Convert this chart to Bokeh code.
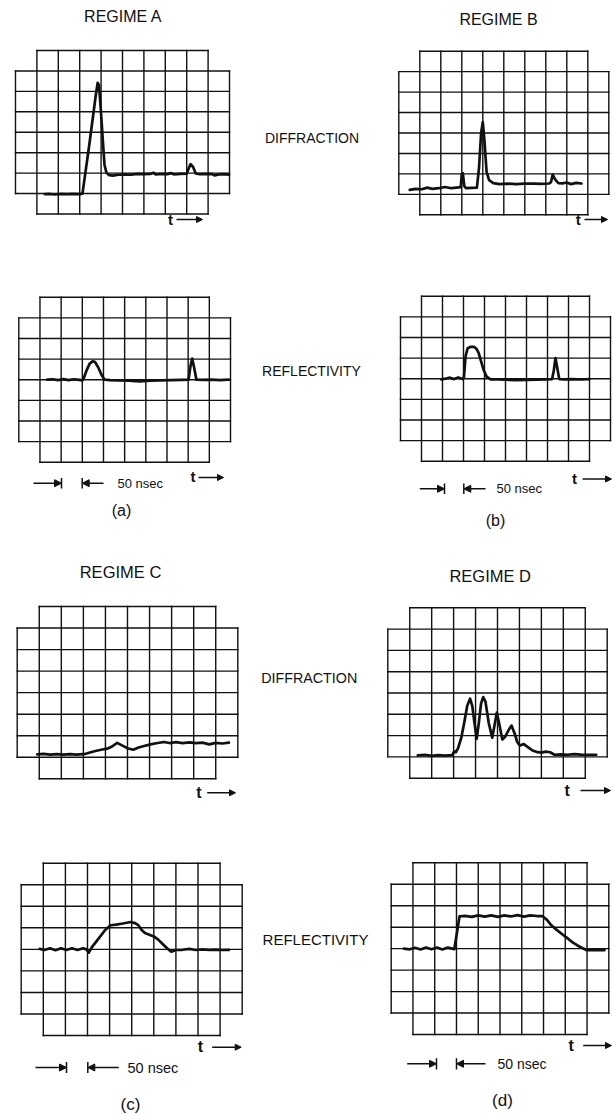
from bokeh.plotting import figure
from bokeh.layouts import column, row
from bokeh.models import Range1d, Arrow, NormalHead
from bokeh.core.properties import value
from bokeh.embed import file_html
from bokeh.resources import INLINE

# ---------------- data (oscilloscope divisions: x 0..10, y 0..8) ----------------
N_COLS = 10
N_ROWS = 8

REGIME_TITLES = ["REGIME A", "REGIME B", "REGIME C", "REGIME D"]
SIGNAL_NAMES = ["DIFFRACTION", "REFLECTIVITY"]
PANEL_TAGS = ["(a)", "(b)", "(c)", "(d)"]
TIME_LABEL = "t"
SCALE_LABEL = "50 nsec"

A_DIFF_X = [1.37, 1.6, 1.85, 2.1, 2.4, 2.7, 3.0, 3.13, 3.45, 3.75, 3.84, 3.9, 3.98, 4.08, 4.16, 4.25,
            4.38, 4.55, 4.8, 5.1, 5.4, 5.7, 6.0, 6.3, 6.45, 6.55, 6.8, 7.1, 7.25, 7.4, 7.7, 8.0, 8.08,
            8.18, 8.3, 8.42, 8.6, 8.9, 9.2, 9.3, 9.5, 9.75, 9.98]
A_DIFF_Y = [0.97, 0.98, 0.96, 0.98, 0.97, 0.98, 0.97, 1.0, 3.4, 5.8, 6.42, 6.3, 5.2, 3.6, 2.4, 2.02,
            1.9, 1.88, 1.92, 1.94, 1.93, 1.96, 1.95, 1.96, 2.02, 1.94, 1.96, 1.95, 2.0, 1.94, 1.96, 1.97,
            2.2, 2.44, 2.3, 1.98, 1.95, 1.96, 1.95, 1.89, 1.94, 1.95, 1.93]

B_DIFF_X = [0.52, 0.8, 1.1, 1.35, 1.6, 1.9, 2.2, 2.5, 2.75, 2.95, 3.0, 3.05, 3.12, 3.2, 3.45, 3.72,
            3.82, 3.92, 4.0, 4.08, 4.18, 4.3, 4.5, 4.8, 5.2, 5.6, 6.0, 6.4, 6.8, 7.15, 7.25, 7.33, 7.45,
            7.6, 7.8, 8.0, 8.2, 8.45, 8.7]
B_DIFF_Y = [1.22, 1.27, 1.25, 1.33, 1.27, 1.3, 1.36, 1.3, 1.33, 1.35, 2.0, 2.03, 1.4, 1.3, 1.32, 1.33,
            2.3, 4.0, 4.53, 3.6, 2.1, 1.7, 1.55, 1.5, 1.52, 1.5, 1.52, 1.52, 1.51, 1.53, 1.6, 1.97, 1.72,
            1.55, 1.54, 1.58, 1.5, 1.56, 1.53]

A_REFL_X = [1.34, 1.6, 1.85, 2.1, 2.35, 2.6, 2.85, 3.0, 3.06, 3.2, 3.35, 3.5, 3.6, 3.75, 3.9, 4.05,
            4.3, 4.7, 5.2, 5.7, 6.2, 6.7, 7.2, 7.7, 8.02, 8.1, 8.19, 8.28, 8.39, 8.7, 9.1, 9.5, 9.92]
A_REFL_Y = [4.0, 4.02, 3.98, 4.03, 3.98, 4.02, 3.99, 3.97, 4.05, 4.45, 4.78, 4.9, 4.86, 4.6, 4.25, 4.0,
            3.98, 3.97, 3.95, 3.92, 3.95, 3.97, 3.98, 3.99, 4.0, 4.6, 5.02, 4.6, 4.0, 3.99, 4.0, 3.98, 4.0]

B_REFL_X = [1.94, 2.15, 2.35, 2.55, 2.75, 2.95, 3.02, 3.1, 3.2, 3.35, 3.5, 3.62, 3.72, 3.82, 3.95, 4.1,
            4.29, 4.6, 5.0, 5.5, 6.0, 6.5, 6.9, 7.22, 7.3, 7.38, 7.47, 7.56, 7.8, 8.2, 8.6, 9.0]
B_REFL_Y = [3.97, 4.0, 4.05, 3.98, 4.06, 3.98, 4.05, 5.1, 5.48, 5.55, 5.54, 5.45, 5.25, 4.9, 4.45, 4.1,
            3.97, 3.96, 3.95, 3.93, 3.94, 3.95, 3.96, 3.98, 4.4, 5.0, 4.5, 3.98, 3.97, 3.98, 3.96, 3.98]

C_DIFF_X = [0.91, 1.2, 1.5, 1.8, 2.1, 2.4, 2.7, 3.1, 3.5, 3.8, 4.08, 4.3, 4.53, 4.75, 5.0, 5.26, 5.5,
            5.75, 6.04, 6.3, 6.65, 6.9, 7.2, 7.5, 7.8, 8.1, 8.4, 8.7, 9.0, 9.3, 9.6]
C_DIFF_Y = [1.13, 1.16, 1.12, 1.15, 1.12, 1.15, 1.12, 1.16, 1.28, 1.35, 1.4, 1.5, 1.67, 1.55, 1.42,
            1.35, 1.45, 1.52, 1.6, 1.65, 1.71, 1.66, 1.7, 1.66, 1.69, 1.66, 1.68, 1.6, 1.67, 1.64, 1.68]

D_DIFF_X = [1.37, 1.7, 2.0, 2.3, 2.6, 2.93, 3.02, 3.1, 3.2, 3.35, 3.5, 3.62, 3.75, 3.85, 3.95, 4.05,
            4.15, 4.25, 4.35, 4.45, 4.6, 4.76, 4.85, 4.97, 5.07, 5.22, 5.35, 5.5, 5.64, 5.78, 5.9, 6.02,
            6.2, 6.4, 6.6, 6.83, 7.0, 7.2, 7.4, 7.6, 7.9, 8.2, 8.5, 8.8, 9.1, 9.5]
D_DIFF_Y = [1.07, 1.1, 1.05, 1.08, 1.06, 1.08, 1.25, 1.22, 1.4, 1.9, 2.7, 3.4, 3.73, 3.4, 2.6, 1.85,
            2.6, 3.5, 3.81, 3.6, 2.6, 1.9, 2.4, 3.08, 2.6, 1.82, 1.95, 2.25, 2.47, 2.1, 1.7, 1.53, 1.6,
            1.45, 1.3, 1.22, 1.2, 1.25, 1.22, 1.1, 1.12, 1.1, 1.13, 1.11, 1.1, 1.1]

C_REFL_X = [0.84, 1.05, 1.3, 1.55, 1.8, 2.05, 2.3, 2.55, 2.8, 2.95, 3.06, 3.2, 3.5, 3.8, 4.04, 4.3,
            4.6, 4.95, 5.15, 5.3, 5.45, 5.6, 5.8, 6.0, 6.2, 6.4, 6.6, 6.79, 7.0, 7.3, 7.6, 7.9, 8.2, 8.5,
            8.8, 9.1, 9.4]
C_REFL_Y = [4.02, 3.97, 4.05, 3.96, 4.05, 3.97, 4.05, 3.97, 4.05, 4.0, 3.85, 4.1, 4.5, 4.9, 5.12, 5.15,
            5.2, 5.27, 5.22, 5.12, 4.9, 4.76, 4.68, 4.6, 4.45, 4.25, 4.05, 3.89, 3.97, 3.98, 4.02, 3.97,
            4.0, 3.98, 3.99, 3.97, 3.98]

D_REFL_X = [0.58, 0.85, 1.1, 1.35, 1.6, 1.85, 2.1, 2.35, 2.6, 2.9, 3.0, 3.14, 3.4, 3.7, 4.0, 4.3, 4.6,
            4.9, 5.2, 5.5, 5.8, 6.1, 6.4, 6.7, 6.94, 7.15, 7.35, 7.55, 7.8, 8.08, 8.3, 8.54, 8.8, 9.0,
            9.4, 9.8]
D_REFL_Y = [4.0, 3.97, 4.04, 3.96, 4.05, 3.97, 4.05, 3.96, 4.05, 3.98, 4.6, 5.51, 5.53, 5.48, 5.55,
            5.49, 5.55, 5.48, 5.55, 5.5, 5.56, 5.49, 5.55, 5.52, 5.52, 5.35, 5.1, 4.92, 4.72, 4.5, 4.32,
            4.16, 4.02, 3.93, 3.94, 3.93]

# ---------------- layout / styling ----------------
FONT = "Liberation Sans"
INK = "#111111"
LEFT_W, RIGHT_W = 385, 229
RIGHT_LEFT = 385
ROW_TOPS = [0, 252, 535, 815]
ROW_H = [252, 283, 280, 298]


def make_panel(left, top, w, h, geom):
    x0, x1, yt, yb = geom
    cw = (x1 - x0) / N_COLS
    ch = (yb - yt) / N_ROWS
    p = figure(width=w, height=h, title=None,
               x_range=Range1d((left - x0) / cw, (left + w - x0) / cw),
               y_range=Range1d((yb - (top + h)) / ch, (yb - top) / ch),
               output_backend="svg", toolbar_location=None,
               x_axis_type=None, y_axis_type=None, min_border=0,
               outline_line_color=None, background_fill_color="white",
               border_fill_color="white")
    p.margin = 0
    U = lambda px: (px - x0) / cw
    V = lambda py: (yb - py) / ch
    return p, U, V


def draw_grid(p, lw):
    xs, ys = [], []
    for j in range(N_ROWS + 1):
        a, b = (1, N_COLS - 1) if j in (0, N_ROWS) else (0, N_COLS)
        xs.append([a, b]); ys.append([j, j])
    for i in range(N_COLS + 1):
        a, b = (1, N_ROWS - 1) if i in (0, N_COLS) else (0, N_ROWS)
        xs.append([i, i]); ys.append([a, b])
    p.multi_line(xs, ys, line_color=INK, line_width=lw, line_cap="square")


def label(p, x, y, s, size, align="center", style="normal"):
    p.text(x=[x], y=[y], text=[s], text_font=value(FONT), text_font_size=f"{size}px",
           text_align=align, text_baseline="middle", text_color=INK, text_font_style=style)


def time_arrow(p, U, V, tx, ty, a0, a1, ay, size=15):
    label(p, U(tx), V(ty), TIME_LABEL, size, style="bold")
    p.add_layout(Arrow(x_start=U(a0), y_start=V(ay), x_end=U(a1), y_end=V(ay), line_width=1.4,
                       line_color=INK,
                       end=NormalHead(size=6, fill_color=INK, line_color=INK, line_width=1)))


def scale_marker(p, U, V, y, la, b1, b2, ra, tx, fs, half=5.3):
    p.add_layout(Arrow(x_start=U(la), y_start=V(y), x_end=U(b1), y_end=V(y), line_width=1.4,
                       line_color=INK,
                       end=NormalHead(size=7, fill_color=INK, line_color=INK, line_width=1)))
    p.add_layout(Arrow(x_start=U(ra), y_start=V(y), x_end=U(b2), y_end=V(y), line_width=1.4,
                       line_color=INK,
                       end=NormalHead(size=7, fill_color=INK, line_color=INK, line_width=1)))
    p.segment(x0=[U(b1), U(b2)], y0=[V(y - half)] * 2, x1=[U(b1), U(b2)], y1=[V(y + half)] * 2,
              line_color=INK, line_width=1.5)
    label(p, U(tx), V(y), SCALE_LABEL, fs, align="left")


def trace(p, xs, ys):
    p.line(xs, ys, line_color=INK, line_width=2.7, line_join="round", line_cap="round")


# ---- Row 1: diffraction, regimes A and B ----
pA, U, V = make_panel(0, ROW_TOPS[0], LEFT_W, ROW_H[0], (15, 229, 50, 213.5))
draw_grid(pA, 1.4)
trace(pA, A_DIFF_X, A_DIFF_Y)
label(pA, U(122.7), V(16), REGIME_TITLES[0], 16)
label(pA, U(311.5), V(137.5), SIGNAL_NAMES[0], 14)
time_arrow(pA, U, V, 170, 218.5, 176, 202, 219)

pB, U, V = make_panel(RIGHT_LEFT, ROW_TOPS[0], RIGHT_W, ROW_H[0], (398.3, 608.3, 50.7, 214.3))
draw_grid(pB, 1.4)
trace(pB, B_DIFF_X, B_DIFF_Y)
label(pB, U(498), V(18.5), REGIME_TITLES[1], 16)
time_arrow(pB, U, V, 577.7, 218.5, 584, 607, 219)

# ---- Row 2: reflectivity, regimes A and B ----
pAr, U, V = make_panel(0, ROW_TOPS[1], LEFT_W, ROW_H[1], (18.3, 230, 296.7, 461.7))
draw_grid(pAr, 1.4)
trace(pAr, A_REFL_X, A_REFL_Y)
label(pAr, U(311), V(370), SIGNAL_NAMES[1], 14)
scale_marker(pAr, U, V, 482.7, 33, 61, 81.7, 103, 117, 13)
time_arrow(pAr, U, V, 192.5, 476, 198, 223, 477)
label(pAr, U(121), V(510), PANEL_TAGS[0], 16)

pBr, U, V = make_panel(RIGHT_LEFT, ROW_TOPS[1], RIGHT_W, ROW_H[1], (400, 610, 295.7, 460.7))
draw_grid(pBr, 1.4)
trace(pBr, B_REFL_X, B_REFL_Y)
scale_marker(pBr, U, V, 488.3, 419.3, 444, 463.3, 485, 496, 13)
time_arrow(pBr, U, V, 574, 478, 582, 611, 478.5)
label(pBr, U(495), V(520), PANEL_TAGS[1], 16)

# ---- Row 3: diffraction, regimes C and D ----
pC, U, V = make_panel(0, ROW_TOPS[2], LEFT_W, ROW_H[2], (16.7, 237.3, 606, 778.3))
draw_grid(pC, 1.4)
trace(pC, C_DIFF_X, C_DIFF_Y)
label(pC, U(120), V(571), REGIME_TITLES[2], 16.5)
label(pC, U(308.7), V(677.8), SIGNAL_NAMES[0], 14.3)
time_arrow(pC, U, V, 198.3, 791.5, 206.7, 235, 792.3, 16)

pD, U, V = make_panel(RIGHT_LEFT, ROW_TOPS[2], RIGHT_W, ROW_H[2], (387.3, 606.7, 607.3, 777.7))
draw_grid(pD, 1.4)
trace(pD, D_DIFF_X, D_DIFF_Y)
label(pD, U(489.7), V(575), REGIME_TITLES[3], 16.5)
time_arrow(pD, U, V, 566.7, 789.5, 580, 610, 790, 16)

# ---- Row 4: reflectivity, regimes C and D ----
pCr, U, V = make_panel(0, ROW_TOPS[3], LEFT_W, ROW_H[3], (20.7, 241.7, 862.7, 1035))
draw_grid(pCr, 1.4)
trace(pCr, C_REFL_X, C_REFL_Y)
label(pCr, U(315), V(938.8), SIGNAL_NAMES[1], 15)
scale_marker(pCr, U, V, 1067, 35, 66, 87.3, 118.3, 127, 14.5, half=5.6)
time_arrow(pCr, U, V, 200, 1046, 211.7, 240.7, 1046.7, 16)
label(pCr, U(130), V(1104), PANEL_TAGS[2], 17)

pDr, U, V = make_panel(RIGHT_LEFT, ROW_TOPS[3], RIGHT_W, ROW_H[3], (390.7, 608.3, 862.3, 1034))
draw_grid(pDr, 1.4)
trace(pDr, D_REFL_X, D_REFL_Y)
scale_marker(pDr, U, V, 1063.3, 406.7, 436, 456, 485, 497, 14, half=5.6)
time_arrow(pDr, U, V, 570.7, 1044.5, 582.7, 611, 1045, 16)
label(pDr, U(502), V(1100), PANEL_TAGS[3], 17)

layout = column(row(pA, pB, spacing=0), row(pAr, pBr, spacing=0),
                row(pC, pD, spacing=0), row(pCr, pDr, spacing=0), spacing=0)

open("out.html", "w").write(file_html(layout, INLINE))
